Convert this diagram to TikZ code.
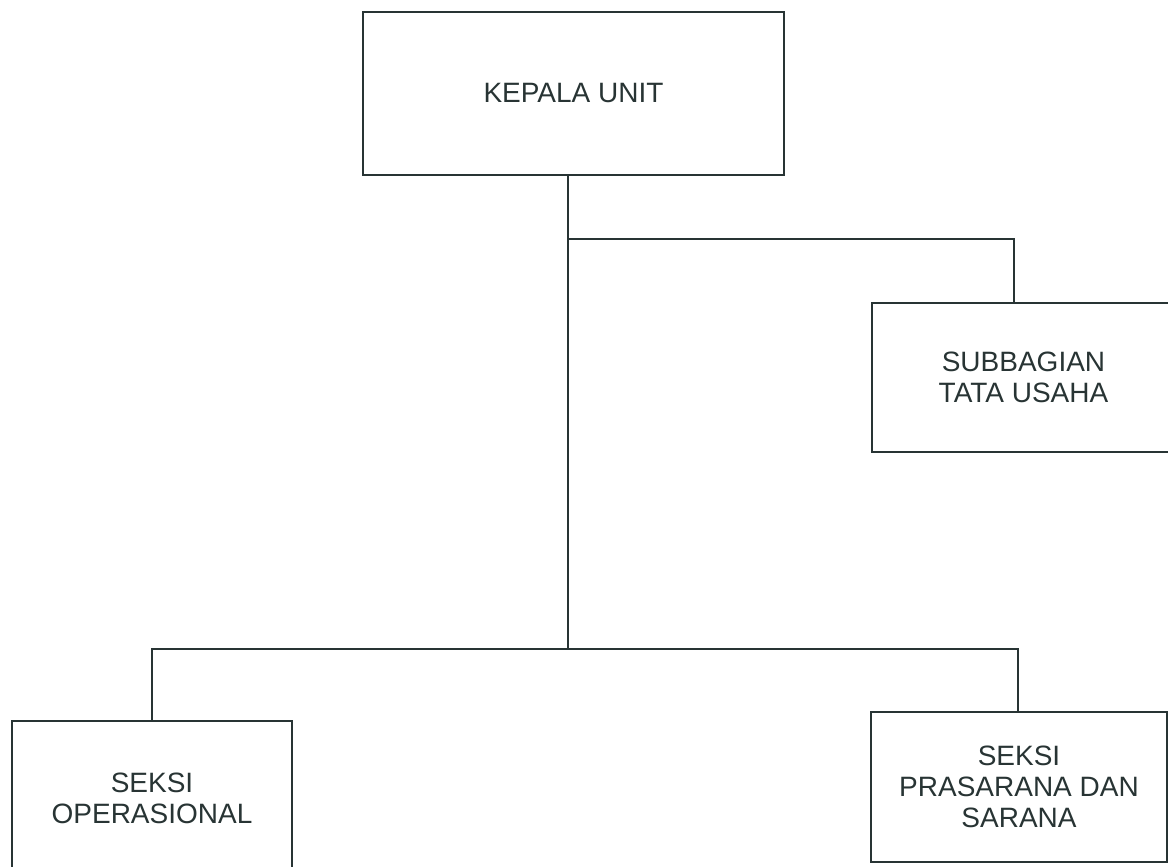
\documentclass[tikz,border=0pt]{standalone}
\usepackage{fontspec}
\setmainfont{Liberation Sans}
\definecolor{ink}{RGB}{40,52,52}
\begin{document}
\begin{tikzpicture}[x=1pt,y=-1pt,
  orgbox/.style={draw=ink,line width=1.8pt,rectangle,inner sep=0pt,align=center,
    text=ink,font=\fontsize{28}{31}\selectfont},
  link/.style={draw=ink,line width=1.8pt}]
\useasboundingbox (0,0) rectangle (1168,867);
\node[orgbox,minimum width=421pt,minimum height=163pt] (k) at (573.5,93.5) {KEPALA UNIT};
\node[orgbox,minimum width=303pt,minimum height=149pt] (s) at (1023.5,377.5) {SUBBAGIAN\\TATA USAHA};
\node[orgbox,minimum width=280pt,minimum height=154pt] (o) at (152,798) {SEKSI\\OPERASIONAL};
\node[orgbox,minimum width=296pt,minimum height=150pt] (p) at (1019,787) {SEKSI\\PRASARANA DAN\\SARANA};
\coordinate (j1) at (568,239);
\coordinate (j2) at (568,649);
\coordinate (sx) at (1014,0);
\coordinate (ox) at (152,0);
\coordinate (px) at (1018,0);
\draw[link] (k.south -| j1) -- (j2);
\draw[link] (j1) -| (sx |- s.north);
\draw[link] (ox |- o.north) |- (j2) -| (px |- p.north);
\end{tikzpicture}
\end{document}
